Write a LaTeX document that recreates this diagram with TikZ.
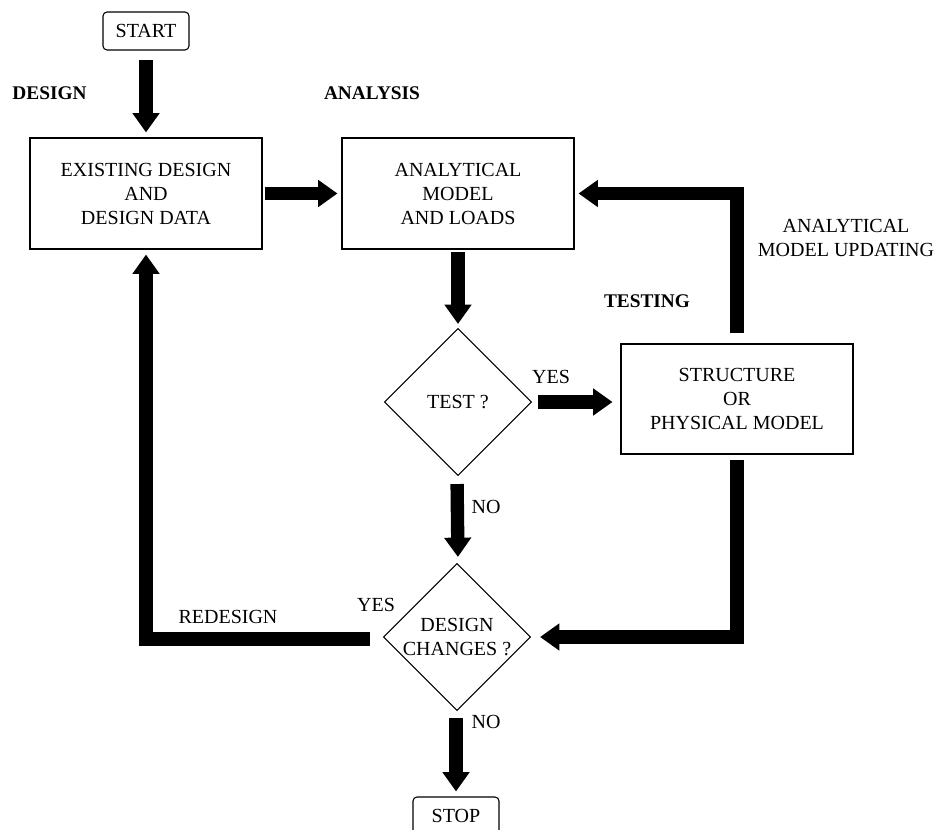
\documentclass[tikz,border=0pt]{standalone}
\usepackage{fontspec}
\setmainfont{Liberation Serif}
\usetikzlibrary{shapes.geometric,arrows.meta,calc}
\begin{document}
\begin{tikzpicture}[x=0.75pt,y=-0.75pt,
  font=\fontsize{15}{18}\selectfont,
  box/.style={draw,line width=0.8pt,rectangle,align=center,inner sep=0pt,
    minimum width=174pt,minimum height=83.25pt},
  term/.style={draw,line width=0.8pt,rectangle,rounded corners=3pt,inner sep=0pt,
    minimum width=64.5pt,minimum height=28.5pt},
  decide/.style={draw,line width=0.8pt,diamond,aspect=1,align=center,inner sep=0pt,
    minimum width=110.25pt,minimum height=110.25pt},
  blk/.style={line width=10pt,line join=miter,
    -{Triangle[width=19.5pt,length=14.5pt]}},
  tag/.style={inner sep=0pt,align=center},
  head/.style={tag,font=\fontsize{14.5}{18}\selectfont\bfseries}]
\clip (0,0) rectangle (938,830);
\useasboundingbox (0,0) rectangle (938,830);

% process boxes and decisions
\node[term]  (start)  at (146,31)    {START};
\node[box]   (exist)  at (146,193.5) {EXISTING DESIGN\\AND\\DESIGN DATA};
\node[box]   (anal)   at (458,193.5) {ANALYTICAL\\MODEL\\AND LOADS};
\node[decide](test)   at (458,402)   {TEST ?};
\node[box,minimum height=82.5pt] (struct) at (737,399) {STRUCTURE\\OR\\PHYSICAL MODEL};
\node[decide](chg)    at (457,637)   {DESIGN\\CHANGES ?};
\node[term]  (stop)   at (456,816)   {STOP};

% phase headings
\node[head] (hdesign)  at (49.5,93) {DESIGN};
\node[head] (hanal)    at (372,93)  {ANALYSIS};
\node[head] (htest)    at (647,301) {TESTING};
\node[tag]  (hupdate)  at (846,238) {ANALYTICAL\\MODEL UPDATING};

% branch labels
\node[tag] (yes1) at (551,377) {YES};
\node[tag] (no1)  at (486,507) {NO};
\node[tag] (yes2) at (376,605) {YES};
\node[tag] (redesign) at (228,617) {REDESIGN};
\node[tag] (no2)  at (486,722) {NO};

% block arrows
\draw[blk,shorten <=6.75pt,shorten >=3.75pt] (start.south) -- (exist.north);
\draw[blk,shorten <=1.5pt,shorten >=3pt] (exist.east) -- (anal.west);
\draw[blk] ([yshift=7.5pt]struct.north) |- ([xshift=3pt]anal.east);
\draw[blk,shorten <=1.5pt,shorten >=3pt] (anal.south) -- (test.north);
\draw[blk,shorten <=4.5pt,shorten >=6pt] (test.east) -- (test.east -| struct.west);
\draw[blk,shorten <=6pt,shorten >=4.5pt] ([xshift=-0.75pt]test.south) -- ([xshift=0.75pt]chg.north);
\draw[blk] ([xshift=-9.75pt,yshift=-1.5pt]chg.west) -| ([yshift=-3.75pt]exist.south);
\draw[blk] ([yshift=-3.75pt]struct.south) |- ([xshift=6.75pt]chg.east);
\draw[blk,shorten <=5.25pt,shorten >=3.75pt] ([xshift=-0.75pt]chg.south) -- (stop.north);
\end{tikzpicture}
\end{document}
